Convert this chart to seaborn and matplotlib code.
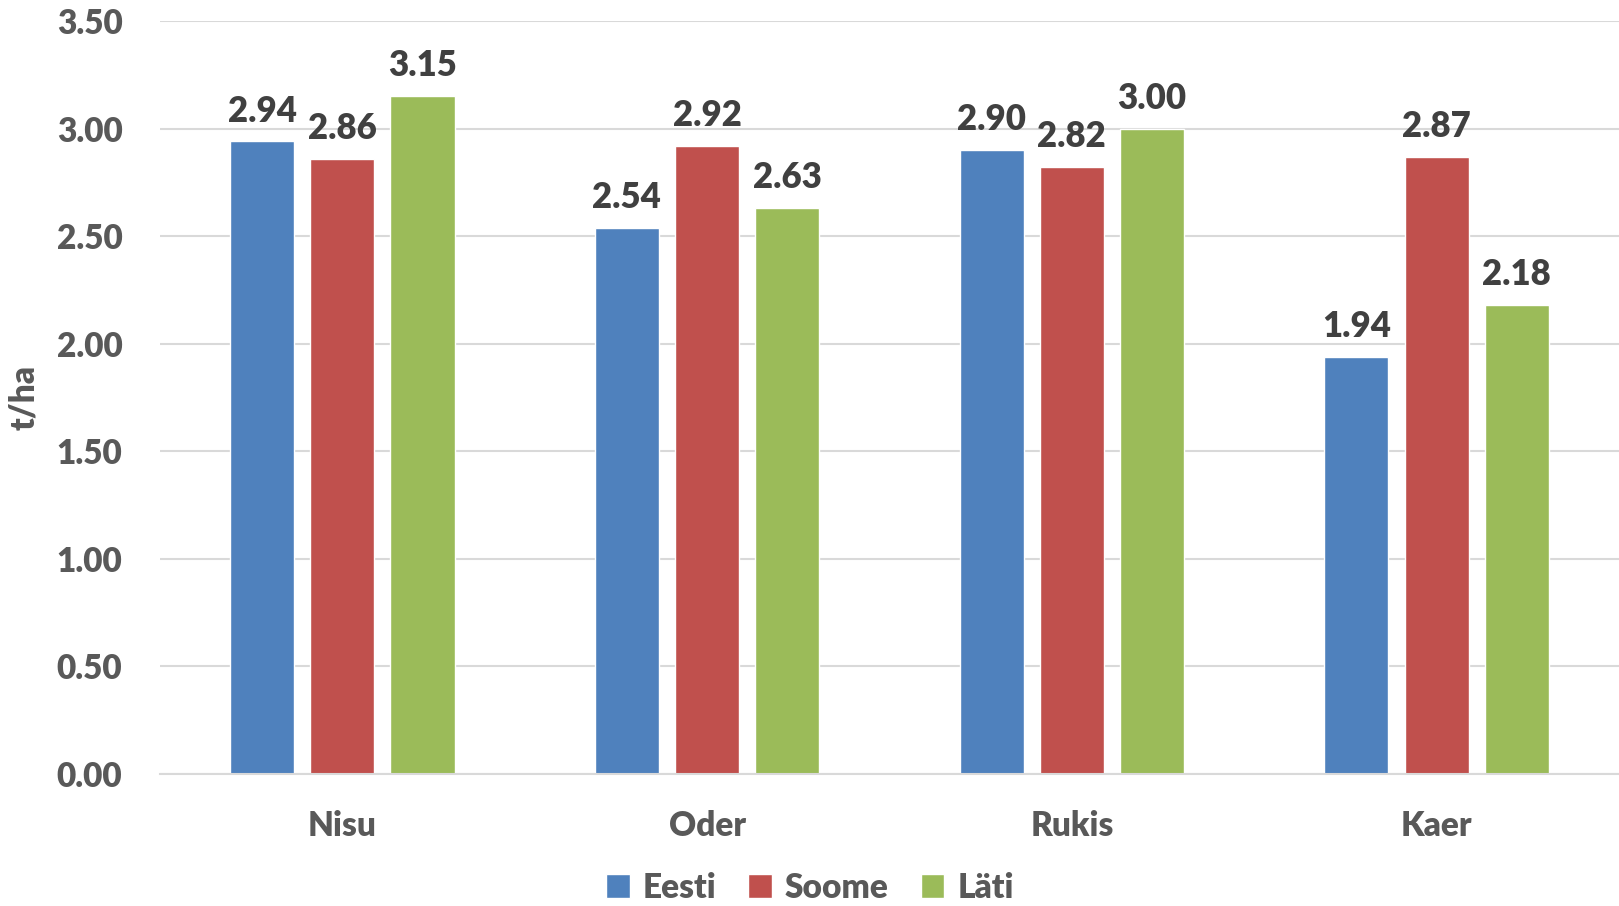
import matplotlib
matplotlib.use('Agg')
import matplotlib.pyplot as plt
import numpy as np
import pandas as pd
import seaborn as sns

crops = ['Nisu', 'Oder', 'Rukis', 'Kaer']
countries = ['Eesti', 'Soome', 'Läti']
eesti = [2.94, 2.54, 2.90, 1.94]
soome = [2.86, 2.92, 2.82, 2.87]
lati = [3.15, 2.63, 3.00, 2.18]
colors = ['#4f81bd', '#c0504d', '#9bbb59']

df = pd.DataFrame({
    'crop': crops * 3,
    'country': [c for c in countries for _ in crops],
    'value': eesti + soome + lati,
})

sns.set_style('white')
plt.rcParams['font.family'] = ['Lato', 'DejaVu Sans']
plt.rcParams['font.weight'] = 'heavy'

fig = plt.figure(figsize=(16.19, 9.06), dpi=100)
ax = fig.add_axes([0.0988, 0.1457, 0.9012, 0.8311])

sns.barplot(data=df, x='crop', y='value', hue='country', order=crops,
            hue_order=countries, palette=colors, width=0.66, gap=0.2,
            saturation=1, legend=True, ax=ax)

for cont in ax.containers:
    ax.bar_label(cont, fmt='%.2f', padding=10, fontsize=25,
                 fontweight='heavy', color='#404040')

ax.set_ylim(0, 3.5)
ax.set_xlim(-0.5, 3.5)
ax.set_yticks(np.arange(0, 3.51, 0.5))
ax.set_yticklabels([f'{v:.2f}' for v in np.arange(0, 3.51, 0.5)])
ax.yaxis.grid(True, color='#d9d9d9', lw=1.5)
ax.set_axisbelow(True)
for s in ['top', 'right', 'left']:
    ax.spines[s].set_visible(False)
ax.spines['bottom'].set_color('#d9d9d9')
ax.spines['bottom'].set_linewidth(1.5)
ax.tick_params(axis='y', length=0, pad=27, labelsize=24, labelcolor='#595959')
ax.tick_params(axis='x', length=0, pad=26, labelsize=24, labelcolor='#595959')
ax.set_xlabel('')
ax.set_ylabel('t/ha', fontsize=24, fontweight='heavy', color='#595959',
              labelpad=12)

ax.legend(loc='center', bbox_to_anchor=(0.4455, -0.151), ncol=3,
          frameon=False, fontsize=24, handlelength=0.7, handleheight=0.7,
          handletextpad=0.4, columnspacing=0.95, labelcolor='#595959',
          borderpad=0.2)

fig.savefig('out.png', dpi=100)
